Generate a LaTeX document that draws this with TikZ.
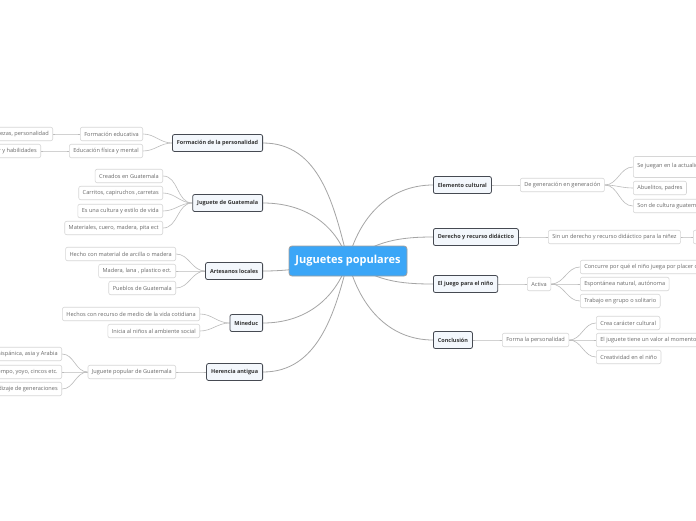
\documentclass[tikz,border=0pt]{standalone}
\usepackage{fontspec}
\setmainfont{Open Sans}
\pgfdeclarelayer{fondo}
\pgfsetlayers{fondo,main}
\definecolor{azul}{RGB}{59,166,247}
\definecolor{linea}{RGB}{165,165,165}
\definecolor{borde}{RGB}{70,74,82}
\definecolor{relleno}{RGB}{243,247,252}
\definecolor{hojaborde}{RGB}{214,214,214}
\definecolor{hojatexto}{RGB}{105,105,105}
\tikzset{
  centro/.style={draw=gray!75, fill=azul, rounded corners=3pt, line width=0.8pt, text=white,
    font=\fontsize{11}{13}\selectfont\bfseries, minimum width=118pt, minimum height=30pt},
  tema/.style={draw=borde, fill=relleno, rounded corners=2pt, line width=0.8pt, text=black!80,
    font=\fontsize{5.5}{6.5}\selectfont\bfseries, minimum height=17pt, inner xsep=4.5pt},
  hoja/.style={draw=hojaborde, fill=white, rounded corners=2pt, line width=0.6pt, text=hojatexto,
    font=\fontsize{5.6}{6.6}\selectfont, minimum height=13.5pt, inner xsep=4pt},
  rama/.style={draw=linea, line width=0.8pt},
  ramita/.style={draw=linea!75, line width=0.6pt},
}
\begin{document}
\begin{tikzpicture}[x=1pt, y=-1pt]
  \useasboundingbox (0,0) rectangle (696,520);
  \clip (0,0) rectangle (696,520);
  % Centro
  \node[centro] (c) at (348,261) {Juguetes populares};
  % Temas a la izquierda
  \node[tema, anchor=east] (fp) at (263,143) {Formación de la personalidad};
  \node[tema, anchor=east] (jg) at (263,203) {Juguete de Guatemala};
  \node[tema, anchor=east] (al) at (263,271) {Artesanos locales};
  \node[tema, anchor=east] (mi) at (263,323) {Mineduc};
  \node[tema, anchor=east] (ha) at (263,372) {Herencia antigua};
  % Temas a la derecha
  \node[tema, anchor=west] (ec) at (433,185) {Elemento cultural};
  \node[tema, anchor=west] (dr) at (433,237) {Derecho y recurso didáctico};
  \node[tema, anchor=west] (jn) at (433,284) {El juego para el niño};
  \node[tema, anchor=west] (co) at (433,340) {Conclusión};
  % Hojas: formacion
  \node[hoja, anchor=east] (fp1) at (143,134) {Formación educativa};
  \node[hoja, anchor=east] (fp2) at (143,151) {Educación física y mental};
  \node[hoja, anchor=east] (fp11) at (53,134) {Destrezas, personalidad};
  \node[hoja, anchor=east] (fp21) at (41,151) {Desarrollo motor y habilidades};
  % Hojas: juguete de Guatemala
  \node[hoja, anchor=east] (jg1) at (163,176) {Creados en Guatemala};
  \node[hoja, anchor=east] (jg2) at (163,193) {Carritos, capiruchos ,carretas};
  \node[hoja, anchor=east] (jg3) at (163,211) {Es una cultura y estilo de vida};
  \node[hoja, anchor=east] (jg4) at (163,228) {Materiales, cuero, madera, pita ect};
  % Hojas: artesanos
  \node[hoja, anchor=east] (al1) at (176,254) {Hecho con material de arcilla o madera};
  \node[hoja, anchor=east] (al2) at (176,271) {Madera, lana , plastico ect.};
  \node[hoja, anchor=east] (al3) at (176,288) {Pueblos de Guatemala};
  % Hojas: mineduc
  \node[hoja, anchor=east] (mi1) at (200,314) {Hechos con recurso de medio de la vida cotidiana};
  \node[hoja, anchor=east] (mi2) at (200,331) {Inicia al niños al ambiente social};
  % Hojas: herencia
  \node[hoja, anchor=east] (ha1) at (176,372) {Juguete popular de Guatemala};
  \node[hoja, anchor=east] (ha11) at (62,354) {Prehispánica, asia y Arabia};
  \node[hoja, anchor=east] (ha12) at (62,372) {Pasatiempo, yoyo, cincos etc.};
  \node[hoja, anchor=east] (ha13) at (62,389) {Aprendizaje de generaciones};
  % Hojas: elemento cultural
  \node[hoja, anchor=west] (ec1) at (520,185) {De generación en generación};
  \node[hoja, anchor=west, minimum height=21pt] (ec11) at (633,167) {\raisebox{4pt}{Se juegan en la actualidad}};
  \node[hoja, anchor=west] (ec12) at (633,188) {Abuelitos, padres};
  \node[hoja, anchor=west] (ec13) at (633,206) {Son de cultura guatemalteca};
  % Hojas: derecho
  \node[hoja, anchor=west] (dr1) at (548,237) {Sin un derecho y recurso didáctico para la niñez};
  \node[hoja, anchor=west, minimum width=40pt] (dr11) at (693,237) {};
  % Hojas: juego
  \node[hoja, anchor=west] (jn1) at (527,284) {Activa};
  \node[hoja, anchor=west] (jn11) at (580,267) {Concurre por qué el niño juega por placer o diversión};
  \node[hoja, anchor=west] (jn12) at (580,284) {Espontánea natural, autónoma};
  \node[hoja, anchor=west] (jn13) at (580,301) {Trabajo en grupo o solitario};
  % Hojas: conclusion
  \node[hoja, anchor=west] (co1) at (502,340) {Forma la personalidad};
  \node[hoja, anchor=west] (co11) at (596,323) {Crea carácter cultural};
  \node[hoja, anchor=west] (co12) at (596,340) {El juguete tiene un valor al momento de jugar};
  \node[hoja, anchor=west] (co13) at (596,357) {Creatividad en el niño};
  % Fondo y conectores
  \begin{pgfonlayer}{fondo}
    \fill[white] (0,0) rectangle (696,520);
    \foreach \n/\o in {fp/104, jg/108, al/188, mi/-108, ha/-104}
      \draw[rama] (c.center) to[out=\o,in=0] (\n.east);
    \foreach \n/\o in {ec/76, dr/35, jn/-35, co/-76}
      \draw[rama] (c.center) to[out=\o,in=180] (\n.west);
    \foreach \a/\b in {fp/fp1, fp/fp2, fp1/fp11, fp2/fp21, jg/jg1, jg/jg2, jg/jg3, jg/jg4,
        al/al1, al/al2, al/al3, mi/mi1, mi/mi2, ha/ha1, ha1/ha11, ha1/ha12, ha1/ha13}
      \draw[ramita] (\a.west) to[out=180,in=0] (\b.east);
    \foreach \a/\b in {ec/ec1, ec1/ec11, ec1/ec12, ec1/ec13, dr/dr1, dr1/dr11, jn/jn1,
        jn1/jn11, jn1/jn12, jn1/jn13, co/co1, co1/co11, co1/co12, co1/co13}
      \draw[ramita] (\a.east) to[out=0,in=180] (\b.west);
  \end{pgfonlayer}
\end{tikzpicture}
\end{document}
